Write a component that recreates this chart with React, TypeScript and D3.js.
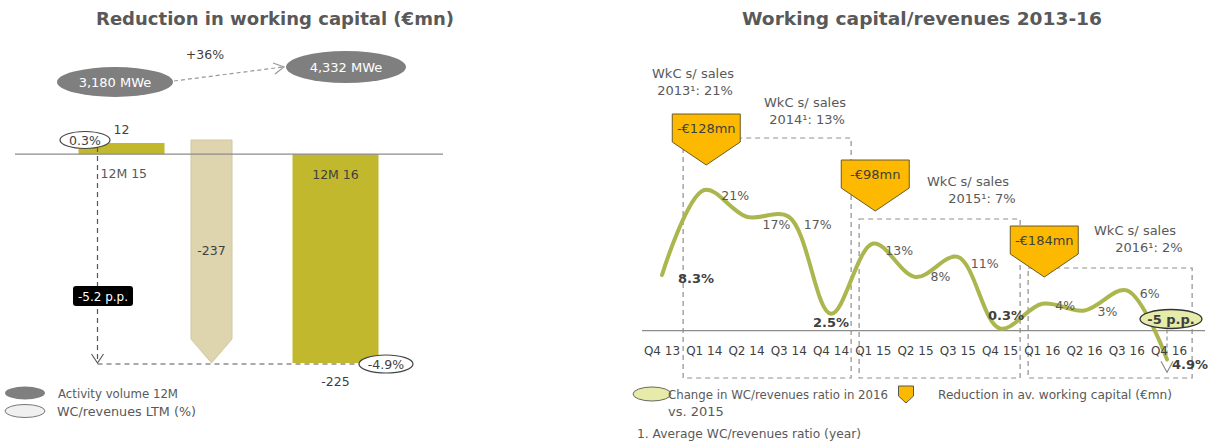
import React from "react";
import * as d3 from "d3";

// ---------- Left panel data ----------
const bridgeCats = ["12M 15", "Change", "12M 16"];
const bridgeValues = [12, -237, -225];
const bridgeLabels = ["12", "-237", "-225"];
const activityVolume = ["3,180 MWe", "4,332 MWe"];
const volumeGrowth = "+36%";
const wcRevenuesLTM = ["0.3%", "-4.9%"];
const ppChangeLeft = "-5.2 p.p.";

// ---------- Right panel data ----------
const quarters = ["Q4 13", "Q1 14", "Q2 14", "Q3 14", "Q4 14", "Q1 15", "Q2 15", "Q3 15", "Q4 15", "Q1 16", "Q2 16", "Q3 16", "Q4 16"];
const wcRatio = [8.3, 21, 17, 17, 2.5, 13, 8, 11, 0.3, 4, 3, 6, -4.9];
const ratioLabels = ["8.3%", "21%", "17%", "17%", "2.5%", "13%", "8%", "11%", "0.3%", "4%", "3%", "6%", "4.9%"];
const keyQuarters = ["Q4 13", "Q4 14", "Q4 15", "Q4 16"];
const noteYears = ["2013", "2014", "2015", "2016"];
const noteValues = ["21%", "13%", "7%", "2%"];
const reductions = ["-€128mn", "-€98mn", "-€184mn"];
const reductionQuarters = ["Q1 14", "Q1 15", "Q1 16"];
const groupStart = ["Q1 14", "Q1 15", "Q1 16"];
const groupEnd = ["Q4 14", "Q4 15", "Q4 16"];
const ppChangeRight = "-5 p.p.";

const FONT = "'DejaVu Sans', Verdana, sans-serif";
const GRAY = "#595959";
const DARK = "#3f3f3f";
const OLIVE = "#c2b82e";
const BEIGE = "#ded5af";
const ORANGE = "#fcb900";
const LIGHTGREEN = "#e6ebaa";
const LINEGREEN = "#abb64f";
const DASH = "#8f8f8f";

function pentagon(cx: number, top: number, w: number, h: number, tip: number) {
  const p = d3.path();
  p.moveTo(cx - w / 2, top);
  p.lineTo(cx + w / 2, top);
  p.lineTo(cx + w / 2, top + h);
  p.lineTo(cx, top + h + tip);
  p.lineTo(cx - w / 2, top + h);
  p.closePath();
  return p.toString();
}

function LeftPanel() {
  const yL = d3.scaleLinear().domain([-225, 12]).range([363, 143]);
  const xL = d3.scaleOrdinal<string, number>().domain(bridgeCats).range([121.5, 211.5, 335.5]);
  const widths = [86, 41, 86];
  const y0 = yL(0);
  const start = bridgeValues[0];
  const end = bridgeValues[2];
  const xRef = xL(bridgeCats[0]) - 24;
  const txt = { fontFamily: FONT, fontSize: 12.5 } as const;
  return (
    <g>
      <text x={275} y={25} textAnchor="middle" fontFamily={FONT} fontWeight="bold" fontSize={18} fill={GRAY} textLength={358} lengthAdjust="spacingAndGlyphs">
        Reduction in working capital (€mn)
      </text>
      {/* activity volume */}
      <text x={205} y={59} textAnchor="middle" {...txt} fill={DARK}>{volumeGrowth}</text>
      <line x1={174} y1={81} x2={283} y2={67} stroke="#999" strokeDasharray="4,3" strokeWidth={1.2} />
      <path d="M273,63 L284,67 L275,74" fill="none" stroke="#999" strokeWidth={1.2} />
      <ellipse cx={115} cy={82} rx={58} ry={15} fill="#7f7f7f" />
      <text x={115} y={87} textAnchor="middle" {...txt} fontSize={13} fill="#fff">{activityVolume[0]}</text>
      <ellipse cx={346} cy={67} rx={60} ry={16} fill="#7f7f7f" />
      <text x={346} y={72} textAnchor="middle" {...txt} fontSize={13} fill="#fff">{activityVolume[1]}</text>

      {/* bars */}
      <rect x={xL(bridgeCats[0]) - widths[0] / 2} y={yL(start)} width={widths[0]} height={y0 - yL(start)} fill={OLIVE} />
      <path d={pentagon(xL(bridgeCats[1]), yL(start) - 3, widths[1], yL(end) - yL(start) - 21, 24)} fill={BEIGE} stroke="#cfc7a3" strokeWidth={1} />
      <rect x={xL(bridgeCats[2]) - widths[2] / 2} y={y0} width={widths[2]} height={yL(end) - y0} fill={OLIVE} />
      <line x1={15} x2={443} y1={y0} y2={y0} stroke="#8c8c8c" strokeWidth={1.3} />

      {/* labels */}
      <text x={xL(bridgeCats[0]) + 0} y={134} textAnchor="middle" {...txt} fill={DARK}>{bridgeLabels[0]}</text>
      <text x={xL(bridgeCats[1])} y={255} textAnchor="middle" {...txt} fill={DARK}>{bridgeLabels[1]}</text>
      <text x={xL(bridgeCats[2])} y={386} textAnchor="middle" {...txt} fill={DARK}>{bridgeLabels[2]}</text>
      <text x={xRef + 3} y={178} {...txt} fill={GRAY}>{bridgeCats[0]}</text>
      <text x={xL(bridgeCats[2])} y={179} textAnchor="middle" {...txt} fill={DARK}>{bridgeCats[2]}</text>

      {/* ratio change dashed path */}
      <line x1={xRef} x2={xRef} y1={yL(start) + 4} y2={yL(end)} stroke="#555" strokeDasharray="5,4" strokeWidth={1.2} />
      <path d={`M${xRef - 6},${yL(end) - 9} L${xRef},${yL(end)} L${xRef + 6},${yL(end) - 9}`} fill="none" stroke="#555" strokeWidth={1.1} />
      <line x1={xRef} x2={362} y1={yL(end) + 1} y2={yL(end) + 1} stroke="#555" strokeDasharray="5,4" strokeWidth={1.2} />
      <ellipse cx={85} cy={yL(start) - 3} rx={25} ry={8.5} fill="#fff" stroke="#444" strokeWidth={1.2} />
      <text x={85} y={yL(start) + 2} textAnchor="middle" {...txt} fill={DARK}>{wcRevenuesLTM[0]}</text>
      <ellipse cx={386} cy={yL(end) + 1} rx={27} ry={9} fill="#fff" stroke="#444" strokeWidth={1.2} />
      <text x={386} y={yL(end) + 6} textAnchor="middle" {...txt} fill={DARK}>{wcRevenuesLTM[1]}</text>
      <rect x={73} y={286} width={60} height={20} rx={3} fill="#000" />
      <text x={103} y={300.5} textAnchor="middle" {...txt} fontSize={12} fill="#fff">{ppChangeLeft}</text>

      {/* legend */}
      <ellipse cx={25} cy={393} rx={20} ry={6.5} fill="#7f7f7f" />
      <text x={58} y={398} {...txt} fontSize={13} fill={GRAY} textLength={120} lengthAdjust="spacingAndGlyphs">Activity volume 12M</text>
      <ellipse cx={25} cy={411} rx={20} ry={6.5} fill="#f0f0f0" stroke="#777" strokeWidth={1} />
      <text x={57} y={416} {...txt} fontSize={13} fill={GRAY} textLength={139} lengthAdjust="spacingAndGlyphs">WC/revenues LTM (%)</text>
    </g>
  );
}

function RightPanel() {
  const xR = d3.scalePoint<string>().domain(quarters).range([662, 1169]);
  const yR = d3.scaleLinear().domain([-5, 21]).range([364, 190]);
  const step = xR.step();
  const y0 = yR(0);
  const pts = quarters.map((q, i) => [xR(q) as number, yR(wcRatio[i])] as [number, number]);
  const line = d3.line().curve(d3.curveCatmullRom.alpha(0.5));
  const curvePts = pts.slice(0, pts.length - 1).concat([[pts[pts.length - 1][0] - 2, pts[pts.length - 1][1] - 4]]);
  const txt = { fontFamily: FONT, fontSize: 12.5 } as const;

  const boxTops = [138, 219, 268];
  const boxBottom = 378;
  const calloutTops = [114, 160, 226];

  // label offsets relative to each point
  const labelDx = [34, 31, 30, 29, 0, 26, 25, 27, 6, 23, 23, 23, 3];
  const labelDy = [8, 10, 12, 12, 13, 11, 4, 11, -9, 6, 6, 8, 6];

  const lastX = xR(quarters[quarters.length - 1]) as number;
  const lastY = yR(wcRatio[wcRatio.length - 1]);

  const noteAnchorX = [693, 805, 968, 1135];
  const noteY = [78, 107, 186, 235];

  return (
    <g>
      <text x={922} y={25} textAnchor="middle" fontFamily={FONT} fontWeight="bold" fontSize={18} fill={GRAY} textLength={360} lengthAdjust="spacingAndGlyphs">
        Working capital/revenues 2013-16
      </text>

      {/* dashed year boxes */}
      {groupStart.map((g, i) => {
        const left = (xR(g) as number) - step / 2 + (i === 0 ? 0 : 7);
        const right = (xR(groupEnd[i]) as number) + step / 2 - (i === 2 ? -2 : 1);
        const top = boxTops[i];
        return (
          <path key={g} d={`M${left},${top} H${right} V${boxBottom} H${left} Z`} fill="none" stroke={DASH} strokeDasharray="5,4" strokeWidth={1.2} />
        );
      })}

      {/* baseline */}
      <line x1={642} x2={1205} y1={y0} y2={y0} stroke="#8c8c8c" strokeWidth={1.3} />
      <line x1={lastX - 2} x2={lastX - 2} y1={y0 - 8} y2={lastY - 2} stroke="#888" strokeDasharray="4,3" strokeWidth={1.1} />

      {/* curve */}
      <path d={line(curvePts) as string} fill="none" stroke={LINEGREEN} strokeWidth={4} strokeLinecap="round" />
      <path d={`M${lastX - 8},${lastY - 2} L${lastX - 2},${lastY + 9} L${lastX + 4},${lastY - 2}`} fill="none" stroke="#888" strokeWidth={1.1} />

      {/* quarter labels */}
      {quarters.map((q) => (
        <text key={q} x={xR(q)} y={355} textAnchor="middle" {...txt} fontSize={12} fill={DARK}>{q}</text>
      ))}

      {/* value labels */}
      {quarters.map((q, i) => {
        const bold = keyQuarters.includes(q);
        return (
          <text key={"l" + q} x={pts[i][0] + labelDx[i]} y={pts[i][1] + labelDy[i]} textAnchor={i === 12 ? "start" : "middle"}
            {...txt} fontSize={bold ? 13 : 12.5} fontWeight={bold ? "bold" : "normal"} fill={bold ? DARK : GRAY}
            textLength={i === 12 ? 36 : undefined} lengthAdjust={i === 12 ? "spacingAndGlyphs" : undefined}>
            {ratioLabels[i]}
          </text>
        );
      })}

      {/* -5 p.p. ellipse */}
      <ellipse cx={1171} cy={319} rx={31} ry={9.5} fill={LIGHTGREEN} stroke="#333" strokeWidth={1.3} />
      <text x={1171} y={324} textAnchor="middle" {...txt} fontSize={13} fontWeight="bold" fill={DARK}>{ppChangeRight}</text>

      {/* callouts */}
      {reductions.map((r, i) => {
        const cx = xR(reductionQuarters[i]) as number;
        return (
          <g key={r}>
            <path d={pentagon(cx + 2, calloutTops[i], 68, 28, 23)} fill={ORANGE} stroke="#6a5a2a" strokeWidth={1} />
            <text x={cx + 2} y={calloutTops[i] + 19} textAnchor="middle" {...txt} fontSize={13} fill={DARK}>{r}</text>
          </g>
        );
      })}

      {/* year notes */}
      {noteYears.map((yv, i) => (
        <g key={yv}>
          <text x={noteAnchorX[i]} y={noteY[i]} textAnchor="middle" {...txt} fontSize={13} fill={GRAY}>WkC s/ sales</text>
          <text x={noteAnchorX[i] + (i >= 2 ? 14 : 2)} y={noteY[i] + 17} textAnchor="middle" {...txt} fontSize={13} fill={GRAY}>{`${yv}¹: ${noteValues[i]}`}</text>
        </g>
      ))}

      {/* legend */}
      <ellipse cx={652} cy={394} rx={19} ry={7} fill={LIGHTGREEN} stroke="#666" strokeWidth={1} />
      <text x={668} y={399} {...txt} fontSize={13} fill={GRAY} textLength={220} lengthAdjust="spacingAndGlyphs">Change in WC/revenues ratio in 2016</text>
      <text x={668} y={416} {...txt} fontSize={13} fill={GRAY}>vs. 2015</text>
      <path d={pentagon(906, 386, 15, 10, 7)} fill={ORANGE} stroke="#555" strokeWidth={1} />
      <text x={938} y={399} {...txt} fontSize={13} fill={GRAY} textLength={234} lengthAdjust="spacingAndGlyphs">Reduction in av. working capital (€mn)</text>
      <text x={637} y={438} {...txt} fontSize={12.5} fill={GRAY} textLength={224} lengthAdjust="spacingAndGlyphs">1. Average WC/revenues ratio (year)</text>
    </g>
  );
}

export default function App() {
  return (
    <svg width={1216} height={442} viewBox="0 0 1216 442" style={{ position: "absolute", left: 0, top: 0, background: "#fff" }}>
      <rect width={1216} height={442} fill="#fff" />
      <LeftPanel />
      <RightPanel />
    </svg>
  );
}
